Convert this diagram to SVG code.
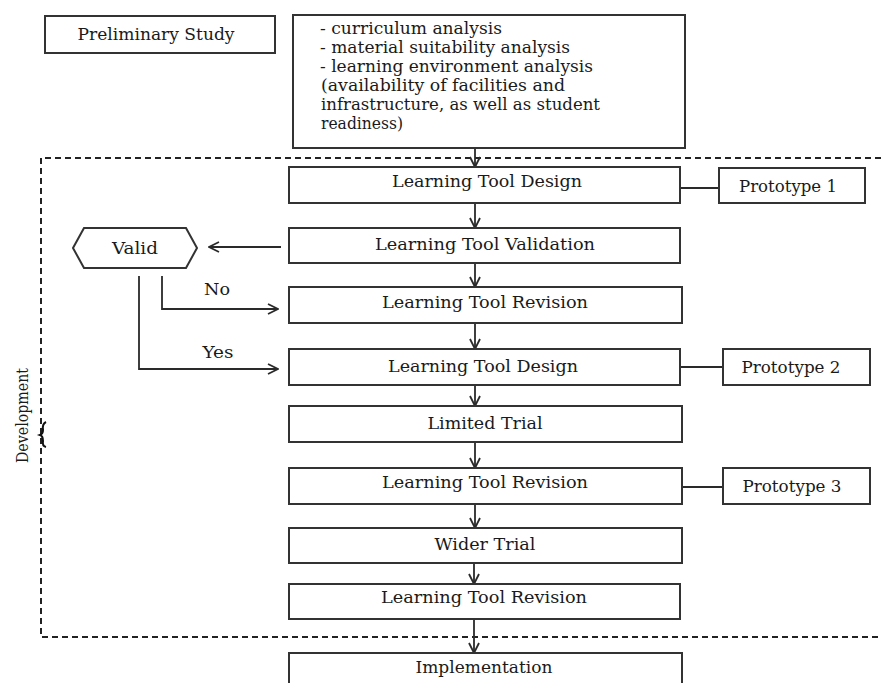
<svg xmlns="http://www.w3.org/2000/svg" width="881" height="683" viewBox="0 0 881 683">
<style>
.box{fill:#fff;stroke:#333;stroke-width:2}
text{font-family:'DejaVu Serif','Liberation Serif',serif;font-size:17.5px;fill:#1a1a1a}
.c{text-anchor:middle}
.s{font-size:16px}
.ln{fill:none;stroke:#2a2a2a;stroke-width:1.8}
.dash{fill:none;stroke:#222;stroke-width:2;stroke-dasharray:6 4}
</style>
<defs>
<marker id="arr" viewBox="0 0 12 12" refX="11" refY="6" markerWidth="12" markerHeight="12" markerUnits="userSpaceOnUse" orient="auto">
<path d="M1,1 L11,6 L1,11" fill="none" stroke="#2a2a2a" stroke-width="1.8"/>
</marker>
</defs>
<rect width="881" height="683" fill="#fff"/>

<g id="development-frame">
<path class="dash" d="M881,158 L41,158 L41,637 L881,637"/>
<path d="M46,422 Q42,424 43,430 Q43,434 40,435 Q43,436 43,441 Q42,446 46,447" fill="none" stroke="#111" stroke-width="2"/>
<text class="s" transform="translate(28,463) rotate(-90)" textLength="95" lengthAdjust="spacingAndGlyphs">Development</text>
</g>

<g id="connectors">
<line class="ln" x1="475" y1="148" x2="475" y2="167" marker-end="url(#arr)"/>
<line class="ln" x1="475" y1="203" x2="475" y2="228" marker-end="url(#arr)"/>
<line class="ln" x1="475" y1="263" x2="475" y2="287" marker-end="url(#arr)"/>
<line class="ln" x1="475" y1="323" x2="475" y2="349" marker-end="url(#arr)"/>
<line class="ln" x1="475" y1="385" x2="475" y2="406" marker-end="url(#arr)"/>
<line class="ln" x1="475" y1="442" x2="475" y2="468" marker-end="url(#arr)"/>
<line class="ln" x1="475" y1="504" x2="475" y2="528" marker-end="url(#arr)"/>
<line class="ln" x1="474" y1="563" x2="474" y2="584" marker-end="url(#arr)"/>
<line class="ln" x1="474" y1="619" x2="474" y2="653" marker-end="url(#arr)"/>
<line class="ln" x1="281" y1="247" x2="209" y2="247" marker-end="url(#arr)"/>
<path class="ln" d="M162,276 L162,309 L278,309" marker-end="url(#arr)"/>
<path class="ln" d="M139,276 L139,369 L278,369" marker-end="url(#arr)"/>
<line class="ln" x1="680" y1="188" x2="719" y2="188"/>
<line class="ln" x1="680" y1="367" x2="723" y2="367"/>
<line class="ln" x1="682" y1="487" x2="723" y2="487"/>
<text class="c" x="217" y="295" textLength="26" lengthAdjust="spacingAndGlyphs">No</text>
<text class="c" x="218" y="358" textLength="31" lengthAdjust="spacingAndGlyphs">Yes</text>
</g>

<g id="preliminary-study">
<rect class="box" x="45" y="16" width="230" height="37"/>
<text class="c" x="156" y="40" textLength="157" lengthAdjust="spacingAndGlyphs">Preliminary Study</text>
</g>

<g id="analysis">
<rect class="box" x="293" y="15" width="392" height="133"/>
<text class="s" x="320" y="34" textLength="182" lengthAdjust="spacingAndGlyphs">- curriculum analysis</text>
<text class="s" x="320" y="53" textLength="250" lengthAdjust="spacingAndGlyphs">- material suitability analysis</text>
<text class="s" x="320" y="72" textLength="273" lengthAdjust="spacingAndGlyphs">- learning environment analysis</text>
<text class="s" x="321" y="91" textLength="244" lengthAdjust="spacingAndGlyphs">(availability of facilities and</text>
<text class="s" x="321" y="110" textLength="279" lengthAdjust="spacingAndGlyphs">infrastructure, as well as student</text>
<text class="s" x="321" y="129" textLength="82" lengthAdjust="spacingAndGlyphs">readiness)</text>
</g>

<g id="design-1">
<rect class="box" x="289" y="167" width="391" height="36"/>
<text class="c" x="487" y="187" textLength="190" lengthAdjust="spacingAndGlyphs">Learning Tool Design</text>
</g>

<g id="prototype-1">
<rect class="box" x="719" y="168" width="146" height="35"/>
<text class="c" x="788" y="192" textLength="98" lengthAdjust="spacingAndGlyphs">Prototype 1</text>
</g>

<g id="validation">
<rect class="box" x="289" y="228" width="391" height="35"/>
<text class="c" x="485" y="250" textLength="220" lengthAdjust="spacingAndGlyphs">Learning Tool Validation</text>
</g>

<g id="valid">
<polygon class="box" points="73,248 84,228 186,228 197,248 186,268 84,268"/>
<text class="c" x="135" y="254" textLength="46" lengthAdjust="spacingAndGlyphs">Valid</text>
</g>

<g id="revision-1">
<rect class="box" x="289" y="287" width="393" height="36"/>
<text class="c" x="485" y="308" textLength="206" lengthAdjust="spacingAndGlyphs">Learning Tool Revision</text>
</g>

<g id="design-2">
<rect class="box" x="289" y="349" width="391" height="36"/>
<text class="c" x="483" y="372" textLength="190" lengthAdjust="spacingAndGlyphs">Learning Tool Design</text>
</g>

<g id="prototype-2">
<rect class="box" x="723" y="349" width="147" height="36"/>
<text class="c" x="791" y="373" textLength="99" lengthAdjust="spacingAndGlyphs">Prototype 2</text>
</g>

<g id="limited-trial">
<rect class="box" x="289" y="406" width="393" height="36"/>
<text class="c" x="485" y="429" textLength="115" lengthAdjust="spacingAndGlyphs">Limited Trial</text>
</g>

<g id="revision-2">
<rect class="box" x="289" y="468" width="393" height="36"/>
<text class="c" x="485" y="488" textLength="206" lengthAdjust="spacingAndGlyphs">Learning Tool Revision</text>
</g>

<g id="prototype-3">
<rect class="box" x="723" y="468" width="147" height="36"/>
<text class="c" x="792" y="492" textLength="99" lengthAdjust="spacingAndGlyphs">Prototype 3</text>
</g>

<g id="wider-trial">
<rect class="box" x="289" y="528" width="393" height="35"/>
<text class="c" x="485" y="550" textLength="101" lengthAdjust="spacingAndGlyphs">Wider Trial</text>
</g>

<g id="revision-3">
<rect class="box" x="289" y="584" width="391" height="35"/>
<text class="c" x="484" y="603" textLength="206" lengthAdjust="spacingAndGlyphs">Learning Tool Revision</text>
</g>

<g id="implementation">
<rect class="box" x="289" y="653" width="393" height="40"/>
<text class="c" x="484" y="673" textLength="137" lengthAdjust="spacingAndGlyphs">Implementation</text>
</g>
</svg>
